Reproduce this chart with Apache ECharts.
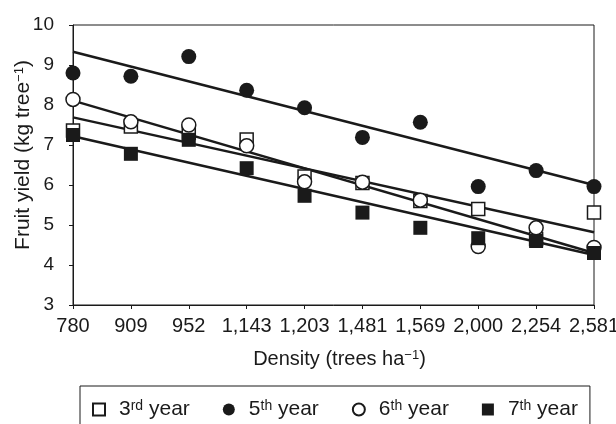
<!DOCTYPE html>
<html>
<head>
<meta charset="utf-8">
<script src="https://cdn.jsdelivr.net/npm/echarts@6/dist/echarts.min.js"></script>
<style>
html, body { margin: 0; padding: 0; background: #fff; }
#main { width: 616px; height: 424px; }
</style>
</head>
<body>
<div id="main"></div>
<script>
// 横轴：种植密度
var densities = ['780', '909', '952', '1,143', '1,203', '1,481', '1,569', '2,000', '2,254', '2,581'];

// 各年份果实产量 (kg/tree)
var year3 = [7.36, 7.46, 7.30, 7.14, 6.21, 6.05, 5.60, 5.40, 4.65, 5.31];
var year5 = [8.80, 8.72, 9.21, 8.37, 7.93, 7.19, 7.57, 5.96, 6.36, 5.96];
var year6 = [8.14, 7.58, 7.50, 6.98, 6.08, 6.07, 5.62, 4.46, 4.93, 4.44];
var year7 = [7.25, 6.78, 7.13, 6.42, 5.73, 5.31, 4.93, 4.67, 4.60, 4.30];

// 趋势线两端 (780 与 2,581 处的读数)
var trend3 = [7.69, 4.82];
var trend5 = [9.33, 6.00];
var trend6 = [8.11, 4.30];
var trend7 = [7.22, 4.25];

var yTicks = [3, 4, 5, 6, 7, 8, 9, 10];

var ink = '#1a1a1a';
var font = 'Liberation Sans, Arial, sans-serif';
var sup = { fontSize: 13, verticalAlign: 'top', lineHeight: 13, fontFamily: font, color: ink };

function trendSeries(name, ends) {
    return {
        name: name,
        type: 'line',
        symbol: 'none',
        silent: true,
        lineStyle: { color: ink, width: 2.5 },
        data: [[0, ends[0]], [densities.length - 1, ends[1]]],
        z: 2
    };
}

var chart = echarts.init(document.getElementById('main'));
var option = {
    animation: false,
    textStyle: { fontFamily: font, color: ink },
    grid: {
        left: 73,
        right: 22,
        top: 25,
        bottom: 119,
        containLabel: false,
        outerBoundsMode: 'none',
        show: true,
        borderColor: ink,
        borderWidth: 1
    },
    xAxis: {
        type: 'category',
        data: densities,
        boundaryGap: false,
        name: 'Density (trees ha{sup|−1})',
        nameLocation: 'middle',
        nameGap: 44,
        nameMoveOverlap: false,
        nameTextStyle: {
            fontSize: 20,
            fontFamily: font,
            color: ink,
            padding: [0, 0, 0, 12],
            rich: { sup: sup }
        },
        axisLine: { lineStyle: { color: ink, width: 1 } },
        axisTick: { show: true, alignWithLabel: true, length: 4, lineStyle: { color: ink } },
        axisLabel: {
            interval: 0,
            margin: 11,
            fontSize: 20,
            fontFamily: 'Liberation Sans Narrow, Arial Narrow, sans-serif',
            color: ink
        },
        splitLine: { show: false }
    },
    yAxis: {
        type: 'value',
        min: yTicks[0],
        max: yTicks[yTicks.length - 1],
        interval: 1,
        name: 'Fruit yield (kg tree{sup|−1})',
        nameLocation: 'middle',
        nameGap: 39,
        nameMoveOverlap: false,
        nameTextStyle: {
            fontSize: 21,
            fontFamily: font,
            color: ink,
            padding: [0, 0, 0, 20],
            rich: { sup: sup }
        },
        axisLine: { show: true, lineStyle: { color: ink, width: 1 } },
        axisTick: { show: true, length: 4, lineStyle: { color: ink } },
        axisLabel: { margin: 19, fontSize: 19, fontFamily: font, color: ink },
        splitLine: { show: false }
    },
    legend: {
        left: 80,
        top: 386,
        orient: 'horizontal',
        data: ['3rd year', '5th year', '6th year', '7th year'],
        itemWidth: 12,
        itemHeight: 12,
        itemGap: 33,
        padding: [13, 12, 40, 12],
        borderColor: ink,
        borderWidth: 1,
        formatter: function (name) {
            var n = name.charAt(0);
            var s = name.substring(1, 3);
            return n + '{sup|' + s + '} year';
        },
        textStyle: {
            fontSize: 21,
            fontFamily: font,
            color: ink,
            padding: [0, 0, 0, 9],
            rich: { sup: { fontSize: 14, verticalAlign: 'top', lineHeight: 14, fontFamily: font, color: ink } }
        }
    },
    series: [
        trendSeries('t3', trend3),
        trendSeries('t5', trend5),
        trendSeries('t6', trend6),
        trendSeries('t7', trend7),
        {
            name: '3rd year',
            type: 'scatter',
            symbol: 'rect',
            symbolSize: 13,
            itemStyle: { color: '#fff', borderColor: ink, borderWidth: 1.5, opacity: 1 },
            data: year3,
            z: 3
        },
        {
            name: '6th year',
            type: 'scatter',
            symbol: 'circle',
            symbolSize: 14,
            itemStyle: { color: '#fff', borderColor: ink, borderWidth: 1.5, opacity: 1 },
            data: year6,
            z: 4
        },
        {
            name: '7th year',
            type: 'scatter',
            symbol: 'rect',
            symbolSize: 14,
            itemStyle: { color: ink, opacity: 1 },
            data: year7,
            z: 5
        },
        {
            name: '5th year',
            type: 'scatter',
            symbol: 'circle',
            symbolSize: 15,
            itemStyle: { color: ink, opacity: 1 },
            data: year5,
            z: 6
        }
    ]
};
chart.setOption(option);
</script>
</body>
</html>
